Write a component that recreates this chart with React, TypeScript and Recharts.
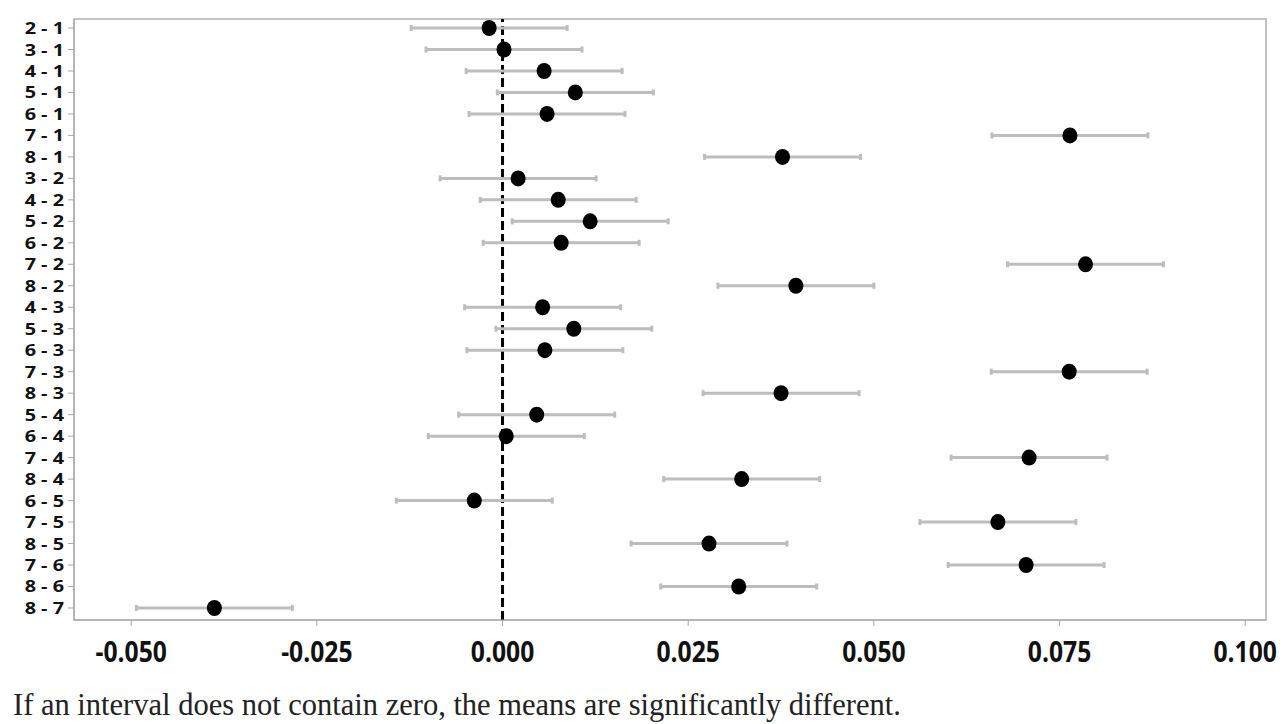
import React from 'react';
import {
  ScatterChart,
  Scatter,
  XAxis,
  YAxis,
  ErrorBar,
  ReferenceLine,
  ReferenceArea
} from 'recharts';

// pairwise comparisons, top to bottom
const pairs = [
  '2 - 1', '3 - 1', '4 - 1', '5 - 1', '6 - 1', '7 - 1', '8 - 1',
  '3 - 2', '4 - 2', '5 - 2', '6 - 2', '7 - 2', '8 - 2',
  '4 - 3', '5 - 3', '6 - 3', '7 - 3', '8 - 3',
  '5 - 4', '6 - 4', '7 - 4', '8 - 4',
  '6 - 5', '7 - 5', '8 - 5',
  '7 - 6', '8 - 6',
  '8 - 7'
];

// difference of means
const diffs = [
  -0.0018, 0.0002, 0.0056, 0.0098, 0.0060, 0.0764, 0.0377,
  0.0021, 0.0075, 0.0118, 0.0079, 0.0785, 0.0395,
  0.0054, 0.0096, 0.0057, 0.0763, 0.0375,
  0.0046, 0.0005, 0.0709, 0.0322,
  -0.0038, 0.0667, 0.0278,
  0.0705, 0.0318,
  -0.0388
];

// lower bound of the interval
const lows = [
  -0.0123, -0.0103, -0.0049, -0.0007, -0.0045, 0.0659, 0.0272,
  -0.0084, -0.0030, 0.0013, -0.0026, 0.0680, 0.0290,
  -0.0051, -0.0009, -0.0048, 0.0658, 0.0270,
  -0.0059, -0.0100, 0.0604, 0.0217,
  -0.0143, 0.0562, 0.0173,
  0.0600, 0.0213,
  -0.0493
];

// upper bound of the interval
const highs = [
  0.0087, 0.0107, 0.0161, 0.0203, 0.0165, 0.0869, 0.0482,
  0.0126, 0.0180, 0.0223, 0.0184, 0.0890, 0.0500,
  0.0159, 0.0201, 0.0162, 0.0868, 0.0480,
  0.0151, 0.0110, 0.0814, 0.0427,
  0.0067, 0.0772, 0.0383,
  0.0810, 0.0423,
  -0.0283
];

const xTicks = [-0.05, -0.025, 0, 0.025, 0.05, 0.075, 0.1];

const X_MIN = -0.0577;
const X_MAX = 0.1028;
const Y_MIN = -0.42;
const Y_MAX = 27.56;

const rows = pairs.map((label, i) => ({
  row: i,
  label,
  diff: diffs[i],
  err: [diffs[i] - lows[i], highs[i] - diffs[i]]
}));

const rowTicks = pairs.map((_, i) => i);

const XTick = (props: any) => {
  const { x, y, payload } = props;
  return (
    <text
      transform={`translate(${x},${y + 34}) scale(0.85,1)`}
      textAnchor="middle"
      fontFamily="'Open Sans', sans-serif"
      fontWeight={700}
      fontSize={29}
      fill="#111"
    >
      {payload.value.toFixed(3)}
    </text>
  );
};

const YTick = (props: any) => {
  const { x, y, payload } = props;
  return (
    <text
      transform={`translate(${x - 2},${y + 6}) scale(1.28,1)`}
      textAnchor="end"
      fontFamily="'Open Sans', sans-serif"
      fontWeight={700}
      fontSize={15.5}
      fill="#111"
    >
      {pairs[payload.value]}
    </text>
  );
};

const Dot = (props: any) => (
  <ellipse cx={props.cx} cy={props.cy} rx={7.5} ry={8} fill="#000" />
);

export default function App() {
  return (
    <div style={{ position: 'absolute', left: 0, top: 0, width: 1284, height: 724, background: '#fff' }}>
      <ScatterChart
        width={1284}
        height={680}
        margin={{ top: 19, right: 18, bottom: 19, left: 0 }}
      >
        <XAxis
          type="number"
          dataKey="diff"
          domain={[X_MIN, X_MAX]}
          ticks={xTicks}
          allowDataOverflow
          height={41}
          stroke="#a8a8a8"
          tickSize={6}
          tick={<XTick />}
        />
        <YAxis
          type="number"
          dataKey="row"
          domain={[Y_MIN, Y_MAX]}
          ticks={rowTicks}
          reversed
          allowDataOverflow
          interval={0}
          width={74}
          stroke="#a8a8a8"
          tickSize={6}
          tick={<YTick />}
        />
        <ReferenceArea
          x1={X_MIN}
          x2={X_MAX}
          y1={Y_MIN}
          y2={Y_MAX}
          fill="none"
          stroke="#b0b0b0"
          strokeWidth={1.5}
        />
        <ReferenceLine x={0} stroke="#000" strokeWidth={3} strokeDasharray="9 4" />
        <Scatter data={rows} shape={<Dot />} isAnimationActive={false}>
          <ErrorBar
            dataKey="err"
            direction="x"
            width={3}
            stroke="#bdbdbd"
            strokeWidth={3}
            isAnimationActive={false}
          />
        </Scatter>
      </ScatterChart>
      <svg
        width={1284}
        height={724}
        style={{ position: 'absolute', left: 0, top: 0, pointerEvents: 'none' }}
      >
        <text
          x={13}
          y={715}
          fontFamily="'Liberation Serif', serif"
          fontSize={30.5}
          fill="#222"
        >
          If an interval does not contain zero, the means are significantly different.
        </text>
      </svg>
    </div>
  );
}
